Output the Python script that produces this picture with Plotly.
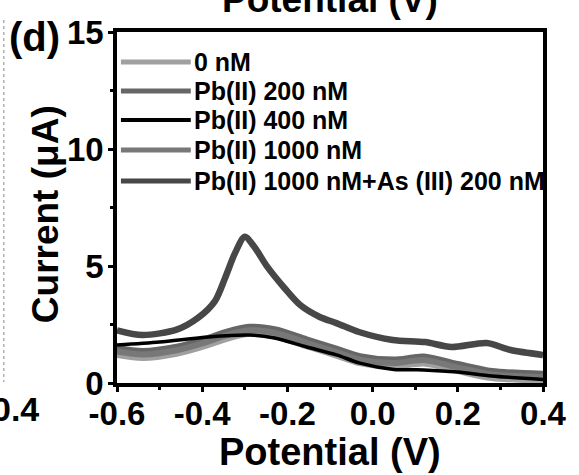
import plotly.graph_objects as go

# ---- data ----
pot_as = [-0.6, -0.54, -0.46, -0.41, -0.37, -0.346, -0.323, -0.30, -0.277, -0.247,
          -0.207, -0.17, -0.124, -0.085, -0.032, 0.047, 0.123, 0.185, 0.268, 0.324, 0.4]
cur_as = [2.25, 2.05, 2.28, 2.78, 3.5, 4.5, 5.55, 6.25, 5.8, 4.96,
          4.06, 3.33, 2.82, 2.56, 2.18, 1.84, 1.75, 1.54, 1.71, 1.41, 1.2]

pot_band = [-0.6, -0.54, -0.46, -0.39, -0.346, -0.29, -0.23, -0.155, -0.085, -0.03,
            0.05, 0.12, 0.2, 0.28, 0.4]
cur_0 = [1.2, 1.07, 1.25, 1.6, 1.87, 2.1, 2.0, 1.57, 1.17, 0.85, 0.7, 0.83, 0.51, 0.21, 0.1]
cur_200 = [1.5, 1.37, 1.55, 1.9, 2.17, 2.4, 2.3, 1.87, 1.47, 1.15, 1.0, 1.13, 0.81, 0.51, 0.4]
cur_1000 = [1.35, 1.22, 1.4, 1.75, 2.02, 2.25, 2.15, 1.72, 1.32, 1.0, 0.85, 0.98, 0.66, 0.36, 0.25]

pot_400 = [-0.6, -0.5, -0.385, -0.286, -0.23, -0.155, -0.085, -0.03, 0.05, 0.12, 0.2, 0.28, 0.4]
cur_400 = [1.62, 1.75, 1.97, 2.05, 1.92, 1.54, 1.2, 0.85, 0.58, 0.56, 0.47, 0.3, 0.15]

names = ["0 nM", "Pb(II) 200 nM", "Pb(II) 400 nM", "Pb(II) 1000 nM",
         "Pb(II) 1000 nM+As (III) 200 nM"]
colors = ["#a0a0a0", "#666666", "#000000", "#787878", "#474747"]
widths = [6, 6, 3.5, 6, 6.5]

x_ticks = [-0.6, -0.4, -0.2, 0.0, 0.2, 0.4]
y_ticks = [0, 5, 10, 15]

series = [(pot_band, cur_0), (pot_band, cur_200), (pot_400, cur_400),
          (pot_band, cur_1000), (pot_as, cur_as)]
order = [0, 1, 3, 2, 4]

fig = go.Figure()
for i in order:
    x, y = series[i]
    fig.add_trace(go.Scatter(x=x, y=y, mode="lines", name=names[i],
                             line=dict(color=colors[i], width=widths[i], shape="spline",
                                       smoothing=0.8),
                             showlegend=False))

FONT = "Liberation Sans"
L, R, T, B = 117, 29, 32, 92
W, H = 579, 475
pw, ph = W - L - R, H - T - B

def px_x(p):
    return (p - L) / pw

def px_y(p):
    return (H - B - p) / ph

shapes = []
annotations = []
leg_y = [62, 91, 120, 150, 181]
for i, yy in enumerate(leg_y):
    shapes.append(dict(type="line", xref="paper", yref="paper",
                       x0=px_x(121), x1=px_x(192), y0=px_y(yy), y1=px_y(yy),
                       line=dict(color=colors[i], width=5 if i != 2 else 4)))
    annotations.append(dict(xref="paper", yref="paper", x=px_x(193), y=px_y(yy),
                            xanchor="left", yanchor="middle", showarrow=False,
                            text="<b>%s</b>" % names[i],
                            font=dict(family=FONT, size=25, color="black")))

# axis titles
annotations.append(dict(xref="paper", yref="paper", x=px_x(334), y=px_y(452),
                        xanchor="center", yanchor="middle", showarrow=False,
                        text="<b>Potential (V)</b>", font=dict(family=FONT, size=38, color="black")))
annotations.append(dict(xref="paper", yref="paper", x=px_x(44), y=px_y(214),
                        xanchor="center", yanchor="middle", showarrow=False, textangle=-90,
                        text="<b>Current (\u03bcA)</b>", font=dict(family=FONT, size=37, color="black")))

# panel label and clipped neighbour-panel texts
annotations.append(dict(xref="paper", yref="paper", x=px_x(5), y=px_y(37),
                        xanchor="left", yanchor="middle", showarrow=False,
                        text="<b>(d)</b>", font=dict(family=FONT, size=40, color="black")))
annotations.append(dict(xref="paper", yref="paper", x=px_x(333), y=px_y(0),
                        xanchor="center", yanchor="middle", showarrow=False,
                        text="<b>Potential (V)</b>", font=dict(family=FONT, size=37, color="black")))
annotations.append(dict(xref="paper", yref="paper", x=px_x(40), y=px_y(409),
                        xanchor="right", yanchor="middle", showarrow=False,
                        text="<b>0.4</b>", font=dict(family=FONT, size=34, color="black")))
shapes.append(dict(type="line", xref="paper", yref="paper",
                   x0=px_x(2), x1=px_x(2), y0=px_y(20), y1=px_y(382),
                   line=dict(color="#888888", width=1, dash="dot")))

axis_common = dict(showline=True, linecolor="black", linewidth=3.5, mirror=True,
                   ticks="outside", tickwidth=3, ticklen=5, tickcolor="black",
                   showgrid=False, zeroline=False,
                   tickfont=dict(family=FONT, size=33, color="black", weight="bold"))

fig.update_layout(
    width=W, height=H,
    margin=dict(l=L, r=R, t=T, b=B),
    paper_bgcolor="white", plot_bgcolor="white",
    xaxis=dict(range=[-0.6, 0.4], tickvals=x_ticks,
               ticktext=["%.1f" % v for v in x_ticks],
               ticklabelstandoff=-6,
               minor=dict(dtick=0.1, ticks="outside", ticklen=3, tickwidth=3, tickcolor="black"),
               **axis_common),
    yaxis=dict(range=[0, 15], tickvals=y_ticks,
               ticklabelstandoff=-2,
               minor=dict(dtick=2.5, ticks="outside", ticklen=3, tickwidth=3, tickcolor="black"),
               **axis_common),
    shapes=shapes, annotations=annotations,
)

fig.write_html("out.html")
